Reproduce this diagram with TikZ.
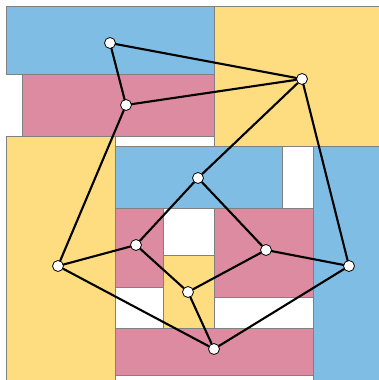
\documentclass[tikz,border=0pt]{standalone}
\usepackage{tikz}
\usetikzlibrary{arrows.meta}
\definecolor{tileblue}{HTML}{7FBDE4}
\definecolor{tilepink}{HTML}{DC8BA0}
\definecolor{tileyellow}{HTML}{FDDD80}
\tikzset{
  every picture/.style={line join=round, line cap=round},
  tile/.style={draw=black!50, line width=1pt},
  vertex/.style={circle, draw=black, fill=white, line width=0.8pt, minimum size=11pt, inner sep=0pt},
  link/.style={line width=2.1pt},
}

\begin{document}
\begin{tikzpicture}[x=1pt,y=-1pt]
\useasboundingbox (0,0) rectangle (379,380);
\clip (0,0) rectangle (379,380);
% tiles
\draw[tile,fill=tileblue](6,6) rectangle (214,74);
\draw[tile,fill=tilepink](22,74) rectangle (214,136);
\draw[tile,fill=tileyellow](214,6) rectangle (385,146);
\draw[tile,fill=tileyellow](6,136) rectangle (115,386);
\draw[tile,fill=tileblue](115,146) rectangle (282,208);
\draw[tile,fill=tileblue](313,146) rectangle (385,386);
\draw[tile,fill=tilepink](115,208) rectangle (163,287);
\draw[tile,fill=tileyellow](163,255) rectangle (214,328);
\draw[tile,fill=tilepink](214,208) rectangle (313,297);
\draw[tile,fill=tilepink](115,328) rectangle (313,375);
% graph
\node[vertex](a) at (110,43){};
\node[vertex](b) at (126,105){};
\node[vertex](c) at (302,79){};
\node[vertex](d) at (198,178){};
\node[vertex](e) at (58,266){};
\node[vertex](f) at (136,245){};
\node[vertex](g) at (188,292){};
\node[vertex](h) at (266,250){};
\node[vertex](i) at (349,266){};
\node[vertex](j) at (214,349){};
\draw[link](a)--(c) (a)--(b) (b)--(c) (b)--(e)
(c)--(d) (c)--(i) (d)--(f) (d)--(h)
(e)--(f) (e)--(j) (f)--(g) (g)--(h)
(g)--(j) (h)--(i) (i)--(j);
\end{tikzpicture}
\end{document}
